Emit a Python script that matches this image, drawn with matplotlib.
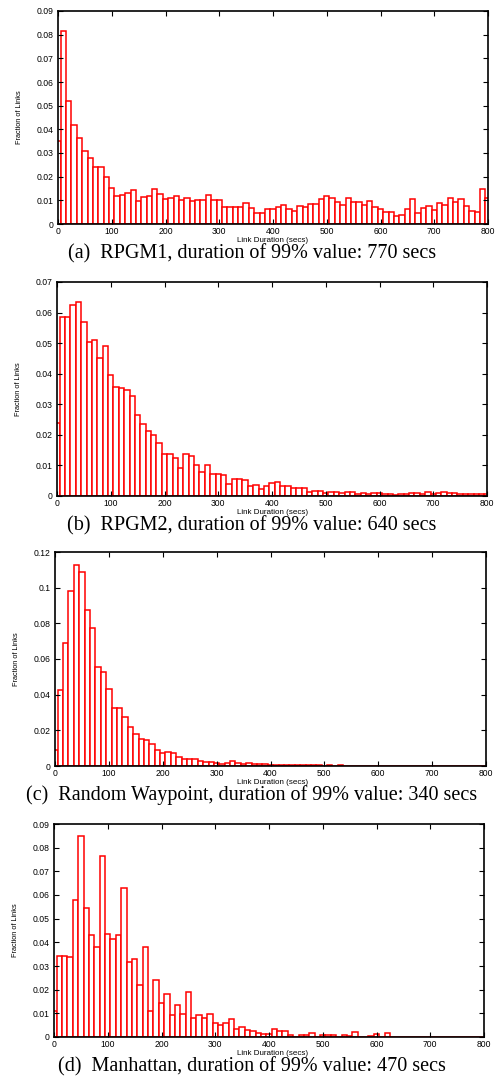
import numpy as np
import matplotlib
matplotlib.use('Agg')
import matplotlib.pyplot as plt
from matplotlib.ticker import FormatStrFormatter, MultipleLocator

# link duration bins (secs), 10 s wide, centred on 0, 10, ..., 800
DURATIONS = list(range(0, 801, 10))

RPGM1 = [0.0350, 0.0815, 0.0520, 0.0420, 0.0365, 0.0310, 0.0280, 0.0240, 0.0240, 0.0200,
         0.0153, 0.0118, 0.0122, 0.0133, 0.0143, 0.0098, 0.0113, 0.0118, 0.0146, 0.0128,
         0.0105, 0.0108, 0.0120, 0.0100, 0.0108, 0.0098, 0.0103, 0.0102, 0.0123, 0.0100,
         0.0100, 0.0073, 0.0073, 0.0073, 0.0070, 0.0089, 0.0068, 0.0048, 0.0047, 0.0063,
         0.0062, 0.0072, 0.0079, 0.0063, 0.0053, 0.0075, 0.0072, 0.0083, 0.0083, 0.0106,
         0.0120, 0.0108, 0.0093, 0.0080, 0.0110, 0.0093, 0.0093, 0.0080, 0.0096, 0.0070,
         0.0062, 0.0052, 0.0049, 0.0035, 0.0037, 0.0063, 0.0106, 0.0046, 0.0068, 0.0075,
         0.0060, 0.0089, 0.0080, 0.0110, 0.0093, 0.0107, 0.0076, 0.0055, 0.0051, 0.0148,
         0.0108]

RPGM2 = [0.0240, 0.0584, 0.0586, 0.0624, 0.0634, 0.0569, 0.0503, 0.0511, 0.0453, 0.0492,
         0.0395, 0.0358, 0.0352, 0.0347, 0.0327, 0.0266, 0.0234, 0.0211, 0.0198, 0.0172,
         0.0139, 0.0139, 0.0125, 0.0093, 0.0138, 0.0132, 0.0101, 0.0077, 0.0103, 0.0071,
         0.0073, 0.0069, 0.0040, 0.0054, 0.0054, 0.0053, 0.0034, 0.0037, 0.0022, 0.0032,
         0.0043, 0.0047, 0.0032, 0.0034, 0.0027, 0.0027, 0.0027, 0.0013, 0.0015, 0.0015,
         0.0010, 0.0014, 0.0014, 0.0011, 0.0013, 0.0014, 0.0008, 0.0011, 0.0008, 0.0011,
         0.0011, 0.0007, 0.0007, 0.0004, 0.0008, 0.0008, 0.0010, 0.0010, 0.0008, 0.0014,
         0.0008, 0.0010, 0.0012, 0.0010, 0.0010, 0.0007, 0.0007, 0.0007, 0.0007, 0.0007,
         0.0007]

RWP = [0.0092, 0.0424, 0.0688, 0.0979, 0.1127, 0.1089, 0.0872, 0.0772, 0.0553, 0.0529,
       0.0429, 0.0328, 0.0328, 0.0277, 0.0219, 0.0182, 0.0154, 0.0148, 0.0122, 0.0092,
       0.0071, 0.0077, 0.0075, 0.0052, 0.0041, 0.0037, 0.0041, 0.0029, 0.0024, 0.0025,
       0.0017, 0.0014, 0.0015, 0.0028, 0.0019, 0.0014, 0.0017, 0.0010, 0.0009, 0.0011,
       0.0007, 0.0008, 0.0008, 0.0006, 0.0007, 0.0004, 0.0005, 0.0004, 0.0003, 0.0003,
       0.0002, 0.0003, 0.0001, 0.0004, 0.0001, 0.0000, 0.0000, 0.0000, 0.0000, 0.0001,
       0.0000, 0.0000, 0.0000, 0.0000, 0.0000, 0.0000, 0.0000, 0.0000, 0.0000, 0.0000,
       0.0000, 0.0000, 0.0000, 0.0000, 0.0000, 0.0000, 0.0000, 0.0000, 0.0000, 0.0000,
       0.0000]

MANHATTAN = [0.0108, 0.0343, 0.0343, 0.0339, 0.0579, 0.0849, 0.0544, 0.0433, 0.0381, 0.0766,
             0.0435, 0.0413, 0.0429, 0.0629, 0.0318, 0.0329, 0.0221, 0.0380, 0.0110, 0.0240,
             0.0143, 0.0183, 0.0093, 0.0134, 0.0097, 0.0191, 0.0080, 0.0091, 0.0082, 0.0096,
             0.0059, 0.0052, 0.0059, 0.0075, 0.0032, 0.0041, 0.0028, 0.0027, 0.0018, 0.0011,
             0.0013, 0.0035, 0.0027, 0.0024, 0.0007, 0.0000, 0.0007, 0.0007, 0.0015, 0.0001,
             0.0007, 0.0007, 0.0007, 0.0001, 0.0007, 0.0003, 0.0020, 0.0000, 0.0000, 0.0003,
             0.0011, 0.0000, 0.0015, 0.0000, 0.0000, 0.0000, 0.0000, 0.0000, 0.0000, 0.0000,
             0.0000, 0.0000, 0.0000, 0.0000, 0.0000, 0.0000, 0.0000, 0.0000, 0.0000, 0.0000,
             0.0000]

CAPTIONS = ['(a)  RPGM1, duration of 99% value: 770 secs',
            '(b)  RPGM2, duration of 99% value: 640 secs',
            '(c)  Random Waypoint, duration of 99% value: 340 secs',
            '(d)  Manhattan, duration of 99% value: 470 secs']
YMAX = [0.09, 0.07, 0.12, 0.09]
YSTEP = [0.01, 0.01, 0.02, 0.01]
SERIES = [RPGM1, RPGM2, RWP, MANHATTAN]

W, H = 497, 1076
# axes boxes in pixels: left, right, top, bottom
BOXES = [(58, 488, 11, 224), (57, 487, 282, 496), (55, 486, 552, 766), (54, 484, 824, 1037)]

fig = plt.figure(figsize=(W / 100, H / 100), dpi=100)
sans = 'Liberation Sans'

for i, (l, r, t, b) in enumerate(BOXES):
    ax = fig.add_axes([l / W, 1 - b / H, (r - l) / W, (b - t) / H])
    ax.bar(DURATIONS, SERIES[i], width=10, align='center', facecolor='white',
           edgecolor='#ff0000', linewidth=1.1)
    ax.set_xlim(0, 800)
    ax.set_ylim(0, YMAX[i])
    ax.xaxis.set_major_locator(MultipleLocator(100))
    ax.yaxis.set_major_locator(MultipleLocator(YSTEP[i]))
    ax.yaxis.set_major_formatter(FormatStrFormatter('%g'))
    ax.tick_params(direction='in', top=True, right=True, length=3.5, width=0.8,
                   labelsize=6.2, pad=3)
    ax.tick_params(axis='x', pad=2.5)
    for lab in ax.get_xticklabels() + ax.get_yticklabels():
        lab.set_family(sans)
    for s in ax.spines.values():
        s.set_linewidth(1.2)
    ax.set_ylabel('Fraction of Links', fontsize=5.3, family=sans)
    ax.yaxis.set_label_coords(-35 / (r - l), 0.5)
    fig.text(273 / W, 1 - (b + 16.5) / H, 'Link Duration (secs)', ha='center', va='center',
             fontsize=5.8, family=sans)
    fig.text(252 / W, 1 - (b + 29.5) / H, CAPTIONS[i], ha='center', va='center',
             fontsize=14.5, family='Liberation Serif')

fig.savefig('out.png', dpi=100)
